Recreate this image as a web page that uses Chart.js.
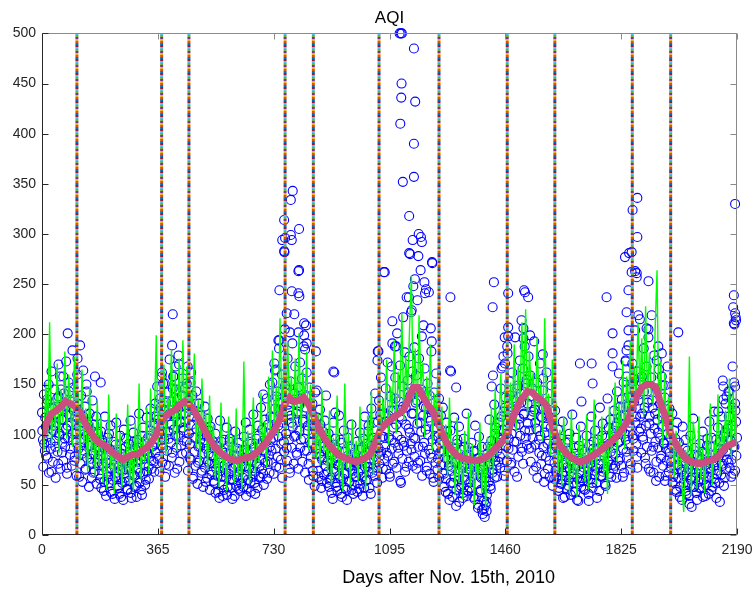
<!DOCTYPE html>
<html>
<head>
<meta charset="utf-8">
<script src="https://cdn.jsdelivr.net/npm/chart.js@4.4.1/dist/chart.umd.min.js"></script>
<style>
  html, body { margin: 0; padding: 0; background: #fff; }
  #wrap { width: 754px; height: 593px; }
</style>
</head>
<body>
<div id="wrap"><canvas id="chart"></canvas></div>
<script>
const chartTitle = 'AQI';
const xLabel = 'Days after Nov. 15th, 2010';
const xTicks = [0, 365, 730, 1095, 1460, 1825, 2190];
const yTicks = [0, 50, 100, 150, 200, 250, 300, 350, 400, 450, 500];

// days where the dotted vertical markers sit
const markerDays = [110, 377, 463, 766, 855, 1062, 1251, 1466, 1616, 1860, 1981];
const markerColors = ['#0072BD', '#D95319', '#EDB120', '#7E2F8E', '#77AC30', '#4DBEEE', '#A2142F'];

const aqiStep = 3;
const aqiEvery3 = [
  122, 95, 140, 84, 108, 131, 77, 150, 118, 92, 63, 126, 104, 145, 88, 112, 136, 71, 99, 158, 124, 82, 115, 141, 96, 128, 67, 109, 152, 119,
  86, 133, 101, 147, 74, 118, 92, 160, 125, 58, 104, 139, 81, 112, 95, 128, 66, 143, 107, 89, 121, 76, 98, 134, 62, 110, 87, 118, 72, 101,
  84, 56, 103, 71, 92, 44, 118, 79, 63, 97, 52, 86, 109, 67, 41, 93, 75, 58, 112, 83, 47, 69, 99, 38, 81, 64, 105, 53, 88, 72,
  45, 91, 66, 114, 37, 78, 102, 59, 86, 49, 95, 73, 121, 62, 84, 40, 107, 76, 93, 55, 117, 81, 68, 99, 126, 74, 88, 109, 63, 131,
  92, 148, 115, 78, 136, 104, 162, 87, 125, 151, 70, 118, 142, 96, 175, 110, 133, 82, 158, 121, 99, 145, 66, 128, 170, 113, 89, 139, 156, 104,
  146, 121, 93, 168, 134, 77, 152, 110, 139, 58, 124, 97, 143, 115, 72, 131, 88, 119, 64, 105, 92, 128, 53, 99, 116, 81, 71, 108, 60, 94,
  78, 52, 101, 66, 89, 43, 72, 114, 58, 84, 39, 95, 70, 62, 107, 48, 81, 93, 55, 76, 36, 88, 67, 103, 49, 79, 60, 92, 44, 73,
  85, 57, 98, 68, 112, 46, 83, 74, 105, 53, 91, 64, 120, 79, 41, 96, 71, 109, 58, 87, 127, 66, 94, 50, 115, 82, 136, 73, 101, 62,
  118, 84, 152, 97, 171, 126, 68, 143, 109, 186, 132, 75, 160, 118, 93, 205, 141, 87, 176, 124, 66, 153, 112, 191, 135, 98, 168, 121, 80, 147,
  129, 172, 95, 156, 113, 188, 84, 138, 162, 104, 71, 147, 119, 92, 131, 59, 108, 142, 86, 117, 64, 99, 125, 78, 54, 103, 88, 114, 69, 95,
  74, 101, 55, 88, 42, 79, 112, 63, 96, 48, 85, 70, 119, 57, 92, 38, 76, 104, 61, 83, 45, 97, 68, 53, 88, 110, 64, 41, 82, 73,
  58, 93, 71, 46, 102, 65, 87, 39, 79, 118, 54, 91, 68, 109, 47, 84, 126, 62, 97, 75, 141, 88, 52, 113, 134, 79, 157, 98, 66, 121,
  104, 146, 82, 172, 119, 61, 138, 95, 191, 124, 73, 157, 110, 201, 87, 133, 169, 52, 115, 148, 93, 182, 127, 68, 154, 106, 178, 139, 85, 163,
  121, 187, 96, 159, 134, 72, 176, 112, 145, 198, 88, 128, 166, 105, 64, 151, 117, 139, 81, 183, 124, 57, 142, 99, 161, 113, 76, 136, 92, 119,
  84, 127, 61, 98, 43, 112, 75, 89, 35, 104, 68, 81, 52, 117, 73, 29, 91, 63, 108, 47, 85, 70, 37, 96, 58, 79, 121, 44, 87, 66,
  53, 92, 71, 38, 84, 109, 60, 76, 27, 98, 65, 45, 88, 21, 26, 57, 30, 33, 81, 69, 115, 49, 94, 62, 86, 130, 74, 107, 58, 97,
  112, 78, 146, 95, 168, 123, 64, 137, 101, 181, 86, 153, 119, 72, 162, 134, 93, 197, 128, 58, 149, 110, 174, 141, 83, 166, 120, 188, 97, 155,
  131, 178, 104, 159, 87, 146, 123, 193, 112, 68, 152, 136, 95, 171, 118, 79, 144, 127, 61, 108, 162, 91, 133, 74, 117, 149, 86, 102, 56, 124,
  88, 63, 105, 47, 79, 96, 55, 113, 70, 38, 92, 67, 84, 49, 101, 74, 58, 120, 43, 81, 66, 97, 35, 76, 89, 53, 108, 62, 71, 46,
  83, 57, 99, 68, 41, 90, 75, 118, 52, 86, 64, 104, 78, 37, 95, 70, 127, 59, 88, 111, 66, 82, 49, 97, 136, 73, 91, 115, 58, 102,
  87, 124, 69, 108, 143, 92, 161, 76, 118, 135, 58, 152, 101, 174, 83, 128, 189, 112, 65, 146, 171, 96, 133, 204, 118, 78, 163, 140, 215, 106,
  152, 98, 186, 127, 71, 168, 143, 205, 111, 63, 157, 134, 88, 179, 121, 54, 146, 102, 165, 131, 76, 118, 149, 92, 137, 59, 113, 168, 84, 126,
  97, 73, 121, 58, 104, 86, 45, 112, 69, 92, 38, 81, 63, 108, 52, 77, 95, 41, 84, 66, 31, 99, 57, 73, 116, 48, 87, 62, 35, 79,
  64, 91, 47, 76, 103, 55, 82, 39, 70, 96, 58, 113, 67, 44, 88, 74, 123, 52, 95, 61, 107, 79, 33, 86, 118, 69, 98, 57, 131, 84,
  106, 72, 143, 95, 58, 127, 88, 152, 64, 113, 97
];
const aqiEvery3b = [
  104, 68, 91, 117, 79, 135, 98, 62, 113, 86, 127, 73, 109, 94, 57, 121, 83, 138, 101, 66, 115, 92, 74, 129, 88, 106, 61, 97, 143, 80,
  112, 69, 95, 124, 78, 102, 59, 131, 86, 108, 71, 96, 53, 118, 84, 65, 99, 77, 110, 48, 89, 72, 57, 103, 81, 63, 94, 51, 76, 88,
  61, 79, 47, 94, 68, 53, 85, 39, 72, 58, 101, 66, 43, 82, 55, 70, 36, 90, 62, 49, 77, 41, 65, 86, 52, 35, 74, 57, 96, 46,
  68, 54, 83, 42, 71, 60, 93, 48, 79, 38, 66, 87, 52, 75, 45, 99, 61, 70, 50, 84, 63, 97, 56, 78, 104, 66, 89, 73, 111, 82,
  118, 76, 101, 63, 127, 89, 72, 111, 95, 58, 132, 84, 103, 69, 121, 92, 77, 146, 105, 62, 118, 87, 135, 99, 73, 112, 128, 81, 107, 94,
  113, 82, 127, 64, 101, 91, 75, 118, 56, 97, 83, 69, 106, 51, 88, 74, 95, 62, 81, 48, 99, 67, 86, 57, 73, 104, 45, 79, 63, 90,
  54, 71, 42, 88, 59, 76, 37, 64, 93, 50, 68, 45, 82, 57, 40, 73, 61, 96, 47, 66, 55, 79, 39, 70, 58, 86, 46, 63, 75, 51,
  69, 48, 77, 60, 39, 85, 55, 66, 93, 43, 74, 58, 87, 52, 63, 80, 47, 99, 68, 57, 76, 105, 61, 84, 72, 93, 56, 110, 79, 88,
  95, 72, 117, 61, 104, 86, 138, 78, 98, 67, 125, 91, 57, 112, 83, 149, 101, 74, 130, 95, 62, 119, 87, 108, 71, 141, 99, 82, 123, 66,
  104, 87, 136, 73, 115, 96, 62, 127, 84, 109, 55, 93, 78, 118, 64, 101, 49, 86, 72, 97, 58, 81, 110, 47, 75, 92, 60, 69, 85, 52,
  63, 48, 81, 57, 72, 36, 66, 90, 52, 77, 44, 69, 59, 95, 41, 74, 56, 83, 47, 62, 35, 79, 53, 68, 86, 45, 61, 73, 50, 58,
  71, 43, 62, 85, 51, 74, 58, 96, 47, 68, 82, 55, 103, 63, 76, 41, 89, 66, 112, 59, 78, 95, 64, 87, 71, 120, 83, 57, 98, 76,
  88, 65, 113, 79, 97, 58, 124, 86, 71, 107, 92, 136, 67, 99, 81, 118, 54, 95, 76, 128, 89, 63, 110, 84, 142, 73, 102, 91, 121, 69,
  97, 78, 132, 66, 111, 88, 143, 74, 103, 59, 119, 92, 81, 127, 68, 100, 85, 61, 114, 77, 95, 53, 106, 72, 88, 65, 98, 57, 83, 70,
  62, 91, 48, 77, 56, 103, 41, 69, 83, 52, 64, 38, 86, 58, 72, 45, 95, 54, 33, 76, 49, 67, 42, 88, 55, 71, 39, 62, 80, 47,
  68, 44, 59, 83, 36, 72, 51, 64, 30, 77, 43, 57, 25, 68, 34, 49, 62, 40, 88, 53, 71, 46, 94, 65, 78, 57, 101, 69, 84, 73,
  92, 67, 118, 81, 105, 59, 127, 88, 74, 112, 96, 139, 70, 101, 85, 124, 63, 109, 93, 146, 78, 116, 99, 132, 87, 71, 121, 104, 151, 90,
  111, 86, 138, 73, 119, 97, 64, 125, 90, 106, 57, 133, 82, 99, 71, 117, 88, 53, 102, 78, 121, 66, 94, 58, 107, 83, 49, 91, 72, 64,
  57, 76, 44, 68, 91, 51, 62, 37, 83, 59, 72, 46, 95, 55, 66, 40, 78, 61, 52, 87, 43, 69, 57, 34, 74, 63, 48, 85, 54, 67,
  45, 72, 58, 63, 34, 81, 56, 69, 47, 93, 60, 75, 52, 66, 86, 44, 71, 58, 99, 63, 79, 51, 88, 68, 74, 107, 61, 83, 70, 94,
  66, 98, 81, 57, 112, 74, 93, 128, 69, 104, 86, 62, 119, 95, 77, 137, 90, 108, 71, 126, 99, 84, 155, 112, 91, 67, 134, 103, 118, 82,
  121, 95, 143, 77, 109, 88, 132, 66, 118, 101, 84, 127, 62, 106, 93, 73, 115, 87, 58, 97, 79, 108, 69, 91, 54, 86, 74, 101, 63, 82,
  68, 89, 52, 75, 61, 96, 43, 70, 57, 82, 48, 65, 35, 74, 59, 86, 44, 62, 51, 39, 71, 55, 28, 66, 48, 80, 57, 42, 69, 53,
  47, 66, 55, 83, 38, 61, 72, 50, 89, 57, 41, 74, 63, 97, 48, 68, 56, 81, 37, 64, 78, 52, 93, 60, 71, 85, 49, 102, 66, 75,
  82, 118, 67, 94, 75, 109, 61, 88, 124, 79
];

// high (and a few very low) days that stick out of the band: [day, AQI]
const aqiPeaks = [
  [30,163],[52,170],[60,145],[67,158],[76,173],[81,201],[96,184],[112,176],[120,189],[130,164],[140,150],[167,158],[185,152],
  [377,158],[382,151],[410,189],[412,220],[414,158],[421,168],[430,179],[456,151],[470,162],
  [697,140],[718,150],[734,164],[737,165],[745,194],[748,244],[748,194],[757,294],[763,314],[763,283],[764,282],[766,296],
  [771,221],[781,202],[784,334],[784,299],[787,294],[787,243],[790,343],[795,220],[808,263],[808,241],[808,202],[810,305],
  [810,264],[811,238],[826,211],[826,199],[829,185],[832,209],[834,191],[863,183],[866,144],[895,139],[918,163],[921,162],[924,122],
  [1057,174],[1058,183],[1060,183],[1077,262],[1080,262],[1102,168],[1104,213],[1112,188],[1116,188],[1127,500],[1129,410],
  [1131,500],[1132,436],[1133,450],[1134,500],[1137,352],[1138,217],[1149,237],[1156,237],[1157,318],[1157,281],[1160,280],
  [1163,222],[1165,224],[1168,294],[1170,248],[1172,485],[1172,390],[1172,357],[1175,255],[1176,432],[1183,234],[1186,278],
  [1187,300],[1193,264],[1194,297],[1197,292],[1202,209],[1205,252],[1207,241],[1210,245],[1219,242],[1225,206],[1228,193],
  [1229,272],[1230,271],[1286,164],[1287,237],[1289,163],[1305,147],
  [1395,18],[1401,24],
  [1417,148],[1420,227],[1421,159],[1424,252],[1448,166],[1454,178],[1458,197],[1459,171],[1466,188],[1469,241],[1469,207],
  [1469,198],[1511,214],[1517,206],[1517,196],[1519,244],[1522,242],[1532,237],[1538,199],[1578,180],[1579,156],
  [1695,171],[1700,133],[1732,171],[1735,151],[1779,237],[1798,201],[1798,181],[1798,168],[1837,277],[1839,173],[1842,222],
  [1842,184],[1842,158],[1842,145],[1848,244],[1848,204],[1850,281],[1858,282],[1858,262],[1861,324],[1869,263],[1874,261],
  [1874,257],[1876,336],[1876,297],[1879,219],[1890,158],[1905,206],[1911,253],[1911,197],[1921,219],[1937,174],[1942,188],
  [1953,181],[1953,158],[1963,149],[2005,202],
  [2131,123],[2145,154],[2147,148],[2147,135],[2157,138],[2163,143],[2176,168],[2178,227],[2180,239],[2180,211],[2182,210],
  [2184,330],[2184,221],[2184,148],[2184,131],[2186,217],[2187,214]
];

// green noisy line, one value every 6 days
const modelStep = 6;
const modelEvery6 = [
  118, 84, 152, 97, 212, 90, 138, 105, 171, 82, 145, 112, 183, 96, 160,
  131, 88, 178, 101, 143, 74, 165, 92, 126, 63, 148, 80, 112, 58, 134,
  70, 118, 52, 96, 45, 140, 66, 88, 41, 121, 59, 102, 47, 84, 62,
  130, 50, 93, 44, 112, 67, 151, 55, 98, 73, 127, 61, 146, 82, 115,
  199, 88, 152, 106, 170, 79, 138, 121, 185, 97, 162, 84, 176, 110, 194,
  103, 168, 92, 144, 125, 181, 87, 135, 70, 156, 98, 122, 64, 139, 83,
  110, 56, 94, 48, 132, 62, 85, 44, 118, 71, 99, 52, 126, 58, 90,
  46, 173, 65, 104, 51, 88, 137, 60, 95, 72, 142, 81, 113, 67, 158,
  92, 184, 110, 147, 98, 216, 124, 171, 89, 193, 132, 158, 105, 176, 118,
  201, 96, 164, 128, 183, 85, 150, 104, 137, 76, 121, 69, 145, 83, 108,
  62, 124, 50, 97, 73, 139, 55, 88, 43, 151, 66, 102, 48, 115, 71,
  94, 53, 128, 67, 106, 45, 119, 78, 143, 60, 101, 84, 162, 97, 136,
  112, 175, 90, 148, 123, 194, 101, 163, 136, 221, 115, 178, 142, 204, 259,
  130, 186, 108, 219, 150, 172, 97, 158, 126, 190, 84, 141, 112, 167, 95,
  128, 73, 110, 58, 137, 66, 94, 40, 117, 52, 86, 35, 104, 61, 122,
  48, 91, 30, 78, 55, 112, 42, 83, 27, 98, 64, 127, 57, 146, 79,
  113, 161, 88, 134, 175, 96, 152, 118, 190, 104, 168, 131, 212, 143, 225,
  120, 184, 139, 163, 102, 197, 128, 150, 94, 216, 117, 141, 79, 175, 98,
  132, 62, 105, 48, 118, 70, 91, 42, 124, 57, 84, 38, 110, 66, 97,
  53, 120, 45, 87, 68, 135, 50, 101, 74, 118, 59, 92, 41, 128, 82,
  106, 152, 73, 131, 96, 174, 85, 158, 120, 193, 101, 168, 134, 212, 145,
  196, 118, 228, 140, 182, 141, 131, 205, 264, 109, 173, 88, 162, 97, 138,
  76, 126, 58, 104, 67, 93, 52, 23, 85, 61, 178, 39, 113, 96, 46,
  118, 55, 87, 42, 102, 68, 131, 49, 94, 73, 140, 60, 109, 82, 124,
  90, 156, 78, 143, 96, 177
];

// pink smoothed line, one value every 15 days
const smoothStep = 15;
const smoothEvery15 = [
  97, 112, 121, 124, 128, 133, 131, 128, 122, 112, 104, 97, 92, 90, 86, 82, 78, 75, 78, 80,
  80, 84, 87, 92, 100, 112, 119, 122, 125, 130, 133, 130, 124, 115, 106, 97, 90, 84, 80, 77,
  75, 74, 76, 77, 78, 82, 86, 92, 99, 106, 116, 130, 137, 133, 134, 137, 130, 120, 108, 99,
  92, 86, 81, 78, 76, 74, 73, 75, 77, 81, 92, 104, 110, 114, 118, 121, 125, 136, 147, 147,
  138, 130, 124, 114, 102, 92, 85, 80, 77, 76, 75, 74, 75, 77, 80, 85, 90, 95, 104, 118,
  129, 137, 143, 142, 137, 134, 129, 112, 97, 88, 82, 78, 75, 73, 74, 77, 80, 83, 87, 91,
  95, 100, 106, 113, 127, 139, 147, 150, 150, 147, 130, 118, 102, 92, 84, 77, 74, 72, 71, 72,
  74, 75, 78, 84, 89, 91, 93
];

const FONT = 'Helvetica, Arial, "Liberation Sans", sans-serif';
const AXIS = '#262626';

function series(values, step, start = 0) {
  return values.map((v, i) => ({ x: start + i * step, y: v }));
}

// one dashed dataset per colour, offset so the colours alternate along each marker
const markerSets = markerColors.map((c, k) => ({
  label: 'marker' + k,
  data: markerDays.flatMap(d => [{ x: d, y: 0 }, { x: d, y: 500 }, { x: d, y: null }]),
  showLine: true,
  spanGaps: false,
  borderColor: c,
  borderWidth: 3,
  borderDash: [2, 12],
  borderDashOffset: -2 * k,
  pointRadius: 0,
  order: 0
}));

// inward ticks, the box round the plot and the x label (MATLAB style)
const framePlugin = {
  id: 'frame',
  afterDraw(chart) {
    const { ctx, chartArea: a, scales: { x, y } } = chart;
    const L = Math.round(a.left) + 0.5, R = Math.round(a.right) - 0.5;
    const T = Math.round(a.top) + 0.5, B = Math.round(a.bottom) - 0.5;
    ctx.save();
    ctx.lineWidth = 1;
    ctx.strokeStyle = '#8a8a8a';
    ctx.beginPath();
    ctx.moveTo(L, T); ctx.lineTo(R, T); ctx.lineTo(R, B);
    x.ticks.forEach(t => {
      const px = Math.round(x.getPixelForValue(t.value)) + 0.5;
      ctx.moveTo(px, T); ctx.lineTo(px, T + 6);
    });
    y.ticks.forEach(t => {
      const py = Math.round(y.getPixelForValue(t.value)) + 0.5;
      ctx.moveTo(R, py); ctx.lineTo(R - 6, py);
    });
    ctx.stroke();
    ctx.strokeStyle = AXIS;
    ctx.beginPath();
    ctx.moveTo(L, T); ctx.lineTo(L, B); ctx.lineTo(R, B);
    x.ticks.forEach(t => {
      const px = Math.round(x.getPixelForValue(t.value)) + 0.5;
      ctx.moveTo(px, B); ctx.lineTo(px, B - 6);
    });
    y.ticks.forEach(t => {
      const py = Math.round(y.getPixelForValue(t.value)) + 0.5;
      ctx.moveTo(L, py); ctx.lineTo(L + 6, py);
    });
    ctx.stroke();
    // the x label sits right of centre in the original
    ctx.fillStyle = '#000';
    ctx.font = '18px ' + FONT;
    ctx.textAlign = 'center';
    ctx.textBaseline = 'middle';
    ctx.fillText(xLabel, a.left + a.width * 0.585, a.bottom + 43);
    ctx.restore();
  }
};

new Chart(document.getElementById('chart'), {
  type: 'scatter',
  data: {
    datasets: [
      ...markerSets,
      {
        label: 'smoothed',
        data: series(smoothEvery15, smoothStep),
        showLine: true,
        borderColor: 'rgb(204,77,128)',
        borderWidth: 7,
        pointRadius: 0,
        order: 1
      },
      {
        label: 'model',
        data: series(modelEvery6, modelStep),
        showLine: true,
        borderColor: '#00ff00',
        borderWidth: 1.4,
        pointRadius: 0,
        order: 2
      },
      {
        label: 'AQI',
        data: series(aqiEvery3, aqiStep)
          .concat(series(aqiEvery3b, aqiStep, 1))
          .concat(aqiPeaks.map(([d, v]) => ({ x: d, y: v }))),
        showLine: false,
        pointStyle: 'circle',
        pointRadius: 4.5,
        pointBorderWidth: 1.1,
        pointBorderColor: '#0000ff',
        pointBackgroundColor: 'rgba(0,0,0,0)',
        clip: false,
        order: 3
      }
    ]
  },
  options: {
    responsive: true,
    maintainAspectRatio: false,
    animation: false,
    layout: { padding: { left: 0, right: 17, top: 0, bottom: 0 } },
    scales: {
      x: {
        type: 'linear',
        min: 0,
        max: 2190,
        afterBuildTicks: s => { s.ticks = xTicks.map(v => ({ value: v })); },
        afterFit: s => { s.height = 58; s.paddingLeft = 0; s.paddingRight = 0; },
        grid: { display: false, drawTicks: false },
        border: { display: false },
        ticks: { color: AXIS, padding: 7, maxRotation: 0, callback: v => String(v), font: { family: FONT, size: 14 } }
      },
      y: {
        min: 0,
        max: 500,
        afterBuildTicks: s => { s.ticks = yTicks.map(v => ({ value: v })); },
        afterFit: s => { s.width = 42; },
        grid: { display: false, drawTicks: false },
        border: { display: false },
        ticks: { color: AXIS, padding: 6, callback: v => String(v), font: { family: FONT, size: 14 } }
      }
    },
    plugins: {
      legend: { display: false },
      tooltip: { enabled: false },
      title: {
        display: true,
        text: chartTitle,
        fullSize: false,
        color: '#000',
        font: { family: FONT, size: 17, weight: 'normal' },
        padding: { top: 8, bottom: 5 }
      }
    }
  },
  plugins: [framePlugin]
});
</script>
</body>
</html>
